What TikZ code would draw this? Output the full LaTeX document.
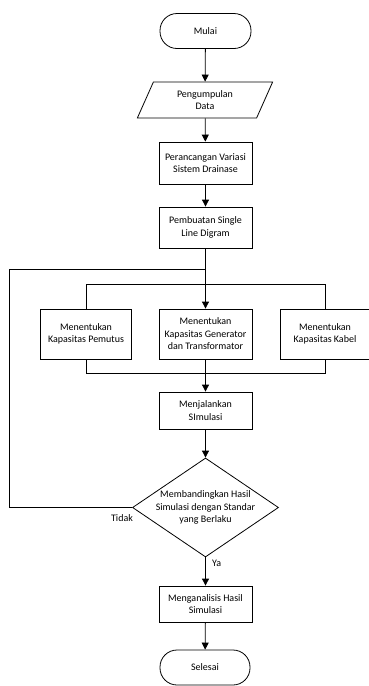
\documentclass[tikz,border=0pt]{standalone}
\usepackage{fontspec}
\setmainfont{Carlito}
\usetikzlibrary{positioning,arrows.meta,shapes.geometric}

\begin{document}
\begin{tikzpicture}[x=1pt,y=-1pt,line width=.8pt,font=\fontsize{10}{12.5}\selectfont,
  box/.style={draw,align=center,inner sep=2pt,minimum width=93pt},
  term/.style={draw,rounded corners=17pt,minimum width=91pt,minimum height=35pt},
  io/.style={draw,trapezium,trapezium left angle=66,trapezium right angle=114,minimum width=112pt,minimum height=36pt,inner sep=0pt,align=center},
  cond/.style={draw,diamond,aspect=1.47,minimum width=146pt,minimum height=99pt,inner sep=-5pt,align=center},
  arr/.style={-{Triangle[width=7pt,length=7pt]}}]
\useasboundingbox (0,0) rectangle (369,686);
\node[term] (mulai) at (205.5,31){Mulai};
\node[io] (data) at (205,100){Pengumpulan\\Data};
\node[box,minimum height=42pt] (rancang) at (205.5,163){Perancangan Variasi\\Sistem Drainase};
\node[box,minimum height=41pt] (sld) at (205.5,227.5){Pembuatan Single\\Line Digram};
\node[box,minimum width=91pt,minimum height=50pt] (pemutus) at (86,334){Menentukan\\Kapasitas Pemutus};
\node[box,minimum height=50pt] (gen) at (205.5,334){Menentukan\\Kapasitas Generator\\dan Transformator};
\node[box,minimum width=90pt,minimum height=50pt] (kabel) at (325,334){Menentukan\\Kapasitas Kabel};
\node[box,minimum height=37pt] (sim) at (205.5,410.5){Menjalankan\\SImulasi};
\node[cond] (cek) at (205.5,507.5){Membandingkan Hasil\\Simulasi dengan Standar\\yang Berlaku};
\node[box,minimum height=36pt] (analisis) at (205.5,604){Menganalisis Hasil\\Simulasi};
\node[term,minimum width=90pt] (selesai) at (205,667.5){Selesai};
\coordinate (jn) at (205.5,269);
\coordinate (lp) at (9,269);
\coordinate (bt) at (0,284);
\coordinate (bb) at (0,373);
% main flow
\draw[arr] (mulai) -- (data);
\draw[arr] (data) -- (rancang);
\draw[arr] (rancang) -- (sld);
\draw[arr] (sld) -- (gen);
\draw[arr] (gen) -- (sim);
\draw[arr] (sim) -- (cek);
\draw[arr] (cek) -- node[right=3pt,pos=.22]{Ya} (analisis);
\draw[arr] (analisis) -- (selesai);
% parallel branches
\draw (pemutus.north) -- (pemutus.north |- bt) -- (kabel.north |- bt) -- (kabel.north);
\draw (pemutus.south) -- (pemutus.south |- bb) -- (kabel.south |- bb) -- (kabel.south);
% loop back
\draw (cek.west) -| (lp) -- (jn);
\node at (122,518){Tidak};
\end{tikzpicture}
\end{document}
